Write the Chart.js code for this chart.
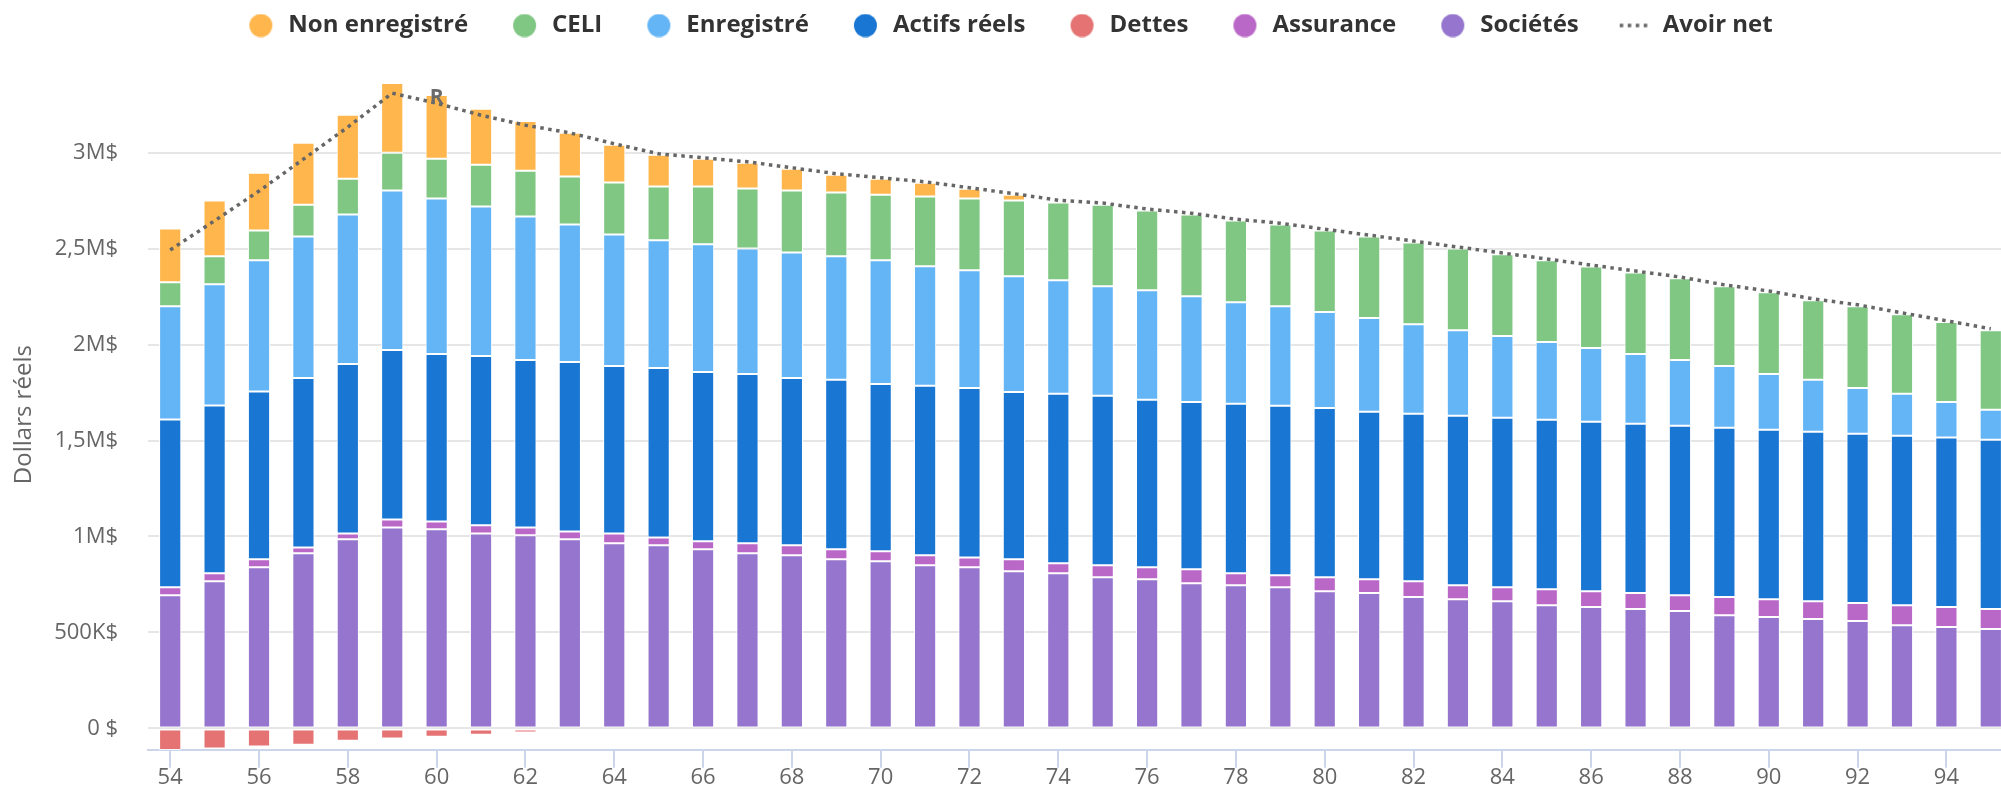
<!DOCTYPE html>
<html lang="fr">
<head>
<meta charset="utf-8">
<title>Avoir net projeté</title>
<script src="https://cdn.jsdelivr.net/npm/chart.js@4.4.1/dist/chart.umd.min.js"></script>
<style>
  html, body { margin: 0; padding: 0; background: #fff; overflow: hidden; }
  #wrap { width: 2001px; height: 793px; overflow: hidden; }
  #box { width: 2013px; height: 793px; }
</style>
</head>
<body>
<div id="wrap"><div id="box"><canvas id="netChart"></canvas></div></div>
<script>
// Projection de l'avoir net par âge, en milliers de dollars réels

const ages = [54, 55, 56, 57, 58, 59, 60, 61, 62, 63, 64, 65, 66, 67, 68, 69, 70, 71, 72, 73, 74,
    75, 76, 77, 78, 79, 80, 81, 82, 83, 84, 85, 86, 87, 88, 89, 90, 91, 92, 93, 94, 95];

const societes = [694, 767, 840, 912, 985, 1047, 1037, 1016, 1006, 985,
    964, 954, 933, 912, 902, 881, 871, 850, 840, 819,
    808, 788, 777, 756, 746, 736, 715, 705, 684, 673,
    663, 642, 632, 622, 611, 590, 580, 570, 559, 538, 528, 518];

const assurance = [42, 41, 41, 31, 31, 42, 41, 42, 41, 41,
    52, 41, 42, 52, 52, 52, 52, 52, 51, 62,
    52, 62, 63, 73, 62, 62, 73, 72, 83, 73,
    73, 83, 83, 83, 83, 94, 93, 93, 94, 104, 104, 104];

const actifsReels = [874, 874, 874, 883, 883, 882, 873, 882, 873, 883,
    872, 883, 882, 883, 872, 883, 872, 883, 883, 872,
    883, 883, 872, 872, 883, 883, 882, 873, 872, 883,
    882, 883, 883, 882, 883, 882, 883, 883, 882, 883, 883, 882];

const enregistre = [590, 632, 684, 737, 779, 831, 810, 779, 747, 717,
    686, 665, 665, 654, 654, 644, 644, 623, 613, 603,
    592, 571, 571, 551, 530, 519, 499, 488, 467, 446,
    426, 405, 384, 364, 343, 322, 291, 270, 239, 218, 186, 156];

const celi = [124, 146, 155, 166, 186, 197, 207, 218, 239, 249,
    270, 280, 301, 312, 322, 332, 342, 363, 374, 394,
    405, 425, 415, 425, 425, 425, 425, 425, 426, 426,
    426, 426, 425, 425, 425, 416, 425, 415, 426, 415, 416, 415];

const nonEnregistre = [281, 290, 301, 322, 333, 364, 332, 291, 259, 228,
    197, 166, 145, 134, 114, 93, 83, 72, 51, 31,
    0, 0, 0, 0, 0, 0, 0, 0, 0, 0,
    0, 0, 0, 0, 0, 0, 0, 0, 0, 0, 0, 0];

const dettes = [-112, -105, -95, -85, -64, -53, -43, -33, -22, 0,
    0, 0, 0, 0, 0, 0, 0, 0, 0, 0,
    0, 0, 0, 0, 0, 0, 0, 0, 0, 0,
    0, 0, 0, 0, 0, 0, 0, 0, 0, 0, 0, 0];

const avoirNet = [2493, 2645, 2800, 2966, 3133, 3310, 3257, 3195, 3143, 3103,
    3046, 2994, 2973, 2952, 2921, 2890, 2869, 2848, 2817, 2786,
    2752, 2737, 2706, 2684, 2653, 2632, 2601, 2570, 2539, 2508,
    2477, 2446, 2414, 2383, 2352, 2311, 2279, 2238, 2207, 2165, 2124, 2082];

const yTickValues = [0, 500, 1000, 1500, 2000, 2500, 3000];
const yTickLabels = ['0 $', '500K$', '1M$', '1,5M$', '2M$', '2,5M$', '3M$'];

const legendOrder = ['Non enregistré', 'CELI', 'Enregistré', 'Actifs réels', 'Dettes', 'Assurance', 'Sociétés', 'Avoir net'];

const retirementAge = 60;

const colors = {
    nonEnregistre: '#ffb74d',
    celi: '#81c784',
    enregistre: '#64b5f6',
    actifsReels: '#1976d2',
    dettes: '#e57373',
    assurance: '#ba68c8',
    societes: '#9575cd',
    avoirNet: '#666666'
};

Chart.defaults.font.family = "'Open Sans', sans-serif";

// Legend markers: drawn on the right side of the box so the gap to the text stays small
function legendDot(color) {
    const c = document.createElement('canvas');
    c.width = 36;
    c.height = 24;
    const g = c.getContext('2d');
    g.fillStyle = color;
    g.beginPath();
    g.arc(20.5, 12, 11.5, 0, Math.PI * 2);
    g.fill();
    return c;
}

function legendDots(color) {
    const c = document.createElement('canvas');
    c.width = 36;
    c.height = 24;
    const g = c.getContext('2d');
    g.strokeStyle = color;
    g.lineWidth = 3.5;
    g.setLineDash([3.5, 4.5]);
    g.beginPath();
    g.moveTo(5, 12);
    g.lineTo(34, 12);
    g.stroke();
    return c;
}

function barSet(label, data, color) {
    return {
        type: 'bar',
        label: label,
        data: data,
        backgroundColor: color,
        borderColor: '#ffffff',
        borderWidth: 1,
        borderSkipped: false,
        barPercentage: 0.5,
        categoryPercentage: 1,
        stack: 'actifs'
    };
}

// "R" marker on the net worth line at retirement
const retirementMark = {
    id: 'retirementMark',
    afterDatasetsDraw(chart) {
        const idx = chart.data.datasets.findIndex(d => d.label === 'Avoir net');
        const pt = chart.getDatasetMeta(idx).data[ages.indexOf(retirementAge)];
        if (!pt) return;
        const ctx = chart.ctx;
        ctx.save();
        ctx.font = "bold 21px 'Open Sans', sans-serif";
        ctx.fillStyle = '#6b6b6b';
        ctx.textAlign = 'center';
        ctx.textBaseline = 'middle';
        ctx.fillText('R', pt.x, pt.y - 5);
        ctx.restore();
    }
};

const ctx = document.getElementById('netChart').getContext('2d');
new Chart(ctx, {
    type: 'bar',
    data: {
        labels: ages.map(String),
        datasets: [
            barSet('Sociétés', societes, colors.societes),
            barSet('Assurance', assurance, colors.assurance),
            barSet('Actifs réels', actifsReels, colors.actifsReels),
            barSet('Enregistré', enregistre, colors.enregistre),
            barSet('CELI', celi, colors.celi),
            barSet('Non enregistré', nonEnregistre, colors.nonEnregistre),
            barSet('Dettes', dettes, colors.dettes),
            {
                type: 'line',
                label: 'Avoir net',
                data: avoirNet,
                borderColor: colors.avoirNet,
                backgroundColor: colors.avoirNet,
                borderWidth: 3.5,
                borderDash: [3.5, 4.5],
                pointRadius: 0,
                pointHoverRadius: 0,
                pointStyle: 'line',
                tension: 0,
                fill: false,
                stack: 'net',
                order: -1
            }
        ]
    },
    options: {
        responsive: true,
        maintainAspectRatio: false,
        animation: false,
        layout: {
            padding: { top: -22.5, left: 0, right: 0, bottom: 0 }
        },
        plugins: {
            legend: {
                position: 'top',
                labels: {
                    usePointStyle: true,
                    pointStyleWidth: 36,
                    padding: 36,
                    color: '#333333',
                    font: { size: 24, weight: 'bold' },
                    generateLabels: chart => {
                        const items = Chart.defaults.plugins.legend.labels.generateLabels(chart);
                        items.forEach(it => {
                            it.pointStyle = it.text === 'Avoir net' ? legendDots(colors.avoirNet) : legendDot(it.fillStyle);
                        });
                        return items;
                    },
                    sort: (a, b) => legendOrder.indexOf(a.text) - legendOrder.indexOf(b.text)
                }
            },
            // empty title used as spacer under the legend
            title: {
                display: true,
                text: '',
                weight: 500,
                padding: 0,
                font: { lineHeight: '32px' }
            },
            tooltip: { enabled: false }
        },
        scales: {
            x: {
                stacked: true,
                offset: true,
                grid: {
                    display: true,
                    drawOnChartArea: false,
                    drawTicks: true,
                    offset: false,
                    tickLength: 18,
                    lineWidth: 2,
                    color: '#ccd6eb',
                    tickColor: c => (c.index % 2 === 0 ? '#ccd6eb' : 'rgba(0,0,0,0)')
                },
                border: { display: true, color: '#ccd6eb', width: 2 },
                ticks: {
                    autoSkip: false,
                    maxRotation: 0,
                    padding: -3,
                    color: '#666666',
                    font: { size: 22 },
                    callback: function (value, index) {
                        return index % 2 === 0 ? this.getLabelForValue(value) : '';
                    }
                },
                afterFit: s => { s.height = 40; }
            },
            y: {
                stacked: true,
                min: -111.6,
                max: 3381,
                grid: { color: '#e6e6e6', lineWidth: 2, drawTicks: false },
                border: { display: false },
                afterBuildTicks: s => {
                    s.ticks = yTickValues.map(v => ({ value: v }));
                },
                ticks: {
                    padding: 30,
                    color: '#666666',
                    font: { size: 22 },
                    callback: v => yTickLabels[yTickValues.indexOf(v)]
                },
                title: {
                    display: true,
                    text: 'Dollars réels',
                    color: '#666666',
                    font: { size: 24 },
                    padding: { top: 10, bottom: 0 }
                },
                afterFit: s => { s.width = 148; }
            }
        }
    },
    plugins: [retirementMark]
});
</script>
</body>
</html>
